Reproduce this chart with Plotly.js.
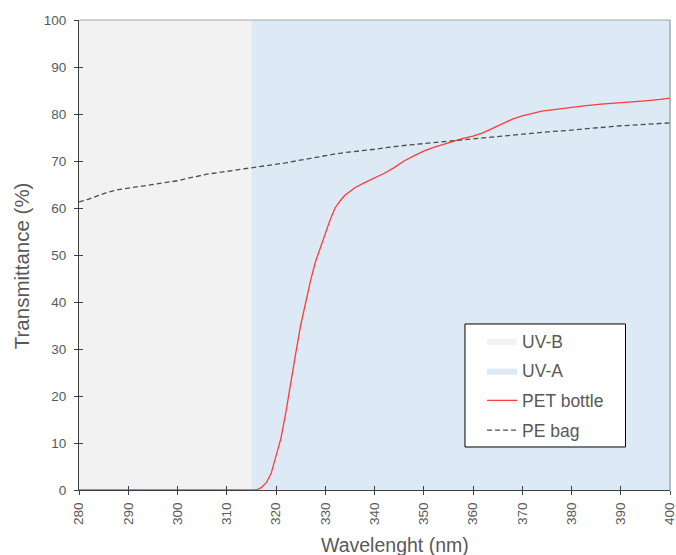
<!DOCTYPE html>
<html>
<head>
<meta charset="utf-8">
<script src="https://cdn.plot.ly/plotly-3.0.1.min.js"></script>
<style>html,body{margin:0;padding:0;background:#fff;}#chart{width:676px;height:555px;}</style>
</head>
<body>
<div id="chart"></div>
<script>
// UV bands (nm) and transmittance range (%)
const uvbBand = [280, 315];
const uvaBand = [315, 400];
const tRange = [0, 100];

// PET bottle transmittance
const petWavelength = [280, 290, 300, 310, 316, 317, 318, 319, 320, 321, 322, 323, 324, 325, 326, 327, 328, 329, 330, 331, 332, 333, 334, 335, 336, 338, 340, 342, 344, 346, 348, 350, 352, 354, 356, 358, 360, 362, 364, 366, 368, 370, 372, 374, 376, 378, 380, 383, 386, 389, 392, 395, 398, 400];
const petTransmittance = [0, 0, 0, 0, 0, 0.5, 1.5, 3.5, 7, 11, 16.5, 23, 29, 35, 40, 44.5, 48.5, 51.5, 54.5, 57.5, 60, 61.5, 62.7, 63.5, 64.3, 65.4, 66.4, 67.4, 68.6, 70, 71.1, 72.1, 72.9, 73.6, 74.2, 74.8, 75.3, 76, 77, 78, 78.9, 79.6, 80.1, 80.6, 80.9, 81.2, 81.5, 81.8, 82.1, 82.3, 82.6, 82.8, 83.1, 83.4];

// PE bag transmittance
const peWavelength = [280, 282, 284, 286, 288, 290, 292, 294, 296, 298, 300, 302, 304, 306, 308, 310, 312, 314, 316, 318, 320, 322, 324, 326, 328, 330, 332, 334, 336, 338, 340, 342, 344, 346, 348, 350, 352, 354, 356, 358, 360, 362, 364, 366, 368, 370, 372, 374, 376, 378, 380, 382, 384, 386, 388, 390, 392, 394, 396, 398, 400];
const peTransmittance = [61.3, 61.9, 62.7, 63.4, 63.9, 64.2, 64.5, 64.8, 65.2, 65.5, 65.8, 66.3, 66.8, 67.2, 67.5, 67.8, 68.1, 68.4, 68.6, 68.9, 69.2, 69.6, 70, 70.4, 70.8, 71.1, 71.5, 71.8, 72, 72.3, 72.5, 72.8, 73.1, 73.3, 73.5, 73.7, 73.9, 74.1, 74.3, 74.5, 74.7, 74.9, 75.2, 75.4, 75.6, 75.8, 75.9, 76.1, 76.3, 76.4, 76.6, 76.8, 77, 77.2, 77.3, 77.5, 77.6, 77.7, 77.9, 78, 78.1];

const xTicks = [280, 290, 300, 310, 320, 330, 340, 350, 360, 370, 380, 390, 400];
const yTicks = [0, 10, 20, 30, 40, 50, 60, 70, 80, 90, 100];

const xTitle = 'Wavelenght (nm)';
const yTitle = 'Transmittance (%)';

function band(b, name, color) {
  return {
    type: 'scatter', mode: 'lines', name: name, legendgroup: name,
    x: [b[0], b[1], b[1], b[0], b[0]],
    y: [tRange[0], tRange[0], tRange[1], tRange[1], tRange[0]],
    fill: 'toself', fillcolor: color, line: {width: 0, color: color},
    hoverinfo: 'skip'
  };
}

const traces = [
  band(uvbBand, 'UV-B', '#f2f2f2'),
  band(uvaBand, 'UV-A', '#dde9f5'),
  {type: 'scatter', mode: 'lines', name: 'PET bottle', legendgroup: 'PET',
   x: petWavelength, y: petTransmittance, line: {color: '#ff3b3b', width: 1.3}},
  {type: 'scatter', mode: 'lines', name: 'PE bag', legendgroup: 'PE',
   xaxis: 'x2', yaxis: 'y2',
   x: peWavelength, y: peTransmittance, line: {color: '#4d4d4d', width: 1.3, dash: '5px,3px'}}
];

const font = {family: 'Liberation Sans, Arial, sans-serif', color: '#595959'};

const layout = {
  width: 676, height: 555,
  margin: {l: 79, r: 6, t: 20, b: 65, pad: 0},
  paper_bgcolor: '#ffffff', plot_bgcolor: '#ffffff',
  font: Object.assign({size: 13}, font),
  showlegend: true,
  legend: {
    x: 0.682, y: 0.3553, xanchor: 'left', yanchor: 'top',
    bgcolor: 'rgba(0,0,0,0)', borderwidth: 0,
    font: Object.assign({size: 17.5}, font),
    tracegroupgap: 4, itemwidth: 30
  },
  xaxis: {
    range: [uvbBand[0], uvaBand[1]], tickvals: xTicks, ticktext: xTicks.map(String),
    tickangle: -90, ticks: 'outside', ticklen: 4, tickcolor: '#404040', tickwidth: 1,
    showline: true, linecolor: '#404040', linewidth: 1, showgrid: false, zeroline: false,
    layer: 'below traces', ticklabeloverflow: 'allow', ticklabelstandoff: 2,
    tickfont: Object.assign({size: 13.5}, font)
  },
  yaxis: {
    range: tRange, tickvals: yTicks, ticktext: yTicks.map(String),
    ticks: 'outside', ticklen: 4, tickcolor: '#404040', tickwidth: 1,
    showline: true, linecolor: '#404040', linewidth: 1, showgrid: false, zeroline: false,
    layer: 'below traces', ticklabelstandoff: 5,
    tickfont: Object.assign({size: 13.5}, font)
  },
  xaxis2: {
    overlaying: 'x', anchor: 'y2', range: [uvbBand[0], uvaBand[1]], tickvals: xTicks,
    ticks: 'inside', ticklen: 4, tickcolor: '#404040', showticklabels: false,
    showline: false, showgrid: false, zeroline: false
  },
  yaxis2: {
    overlaying: 'y', anchor: 'x2', range: tRange, tickvals: yTicks,
    ticks: 'inside', ticklen: 4, tickcolor: '#404040', showticklabels: false,
    showline: false, showgrid: false, zeroline: false
  },
  annotations: [
    {text: xTitle, xref: 'paper', yref: 'paper', x: 0.5347, y: -0.117,
     xanchor: 'center', yanchor: 'middle', showarrow: false,
     font: Object.assign({size: 19.5}, font)},
    {text: yTitle, xref: 'paper', yref: 'paper', x: -0.096, y: 0.4766,
     xanchor: 'center', yanchor: 'middle', showarrow: false, textangle: -90,
     font: Object.assign({size: 20.5}, font)}
  ],
  shapes: [
    {type: 'line', xref: 'paper', yref: 'paper', x0: 0, x1: 1, y0: 1, y1: 1,
     line: {color: '#a6a6a6', width: 1.2}, layer: 'above'},
    {type: 'line', xref: 'paper', yref: 'paper', x0: 1, x1: 1, y0: 0, y1: 1,
     line: {color: '#a6a6a6', width: 1.5}, layer: 'above'},
    {type: 'rect', xref: 'paper', yref: 'paper', x0: 0.6531, x1: 0.9247, y0: 0.0915, y1: 0.3532,
     fillcolor: '#ffffff', line: {color: '#000000', width: 1}, layer: 'above'}
  ]
};

Plotly.newPlot('chart', traces, layout, {displayModeBar: false, staticPlot: true});
</script>
</body>
</html>
